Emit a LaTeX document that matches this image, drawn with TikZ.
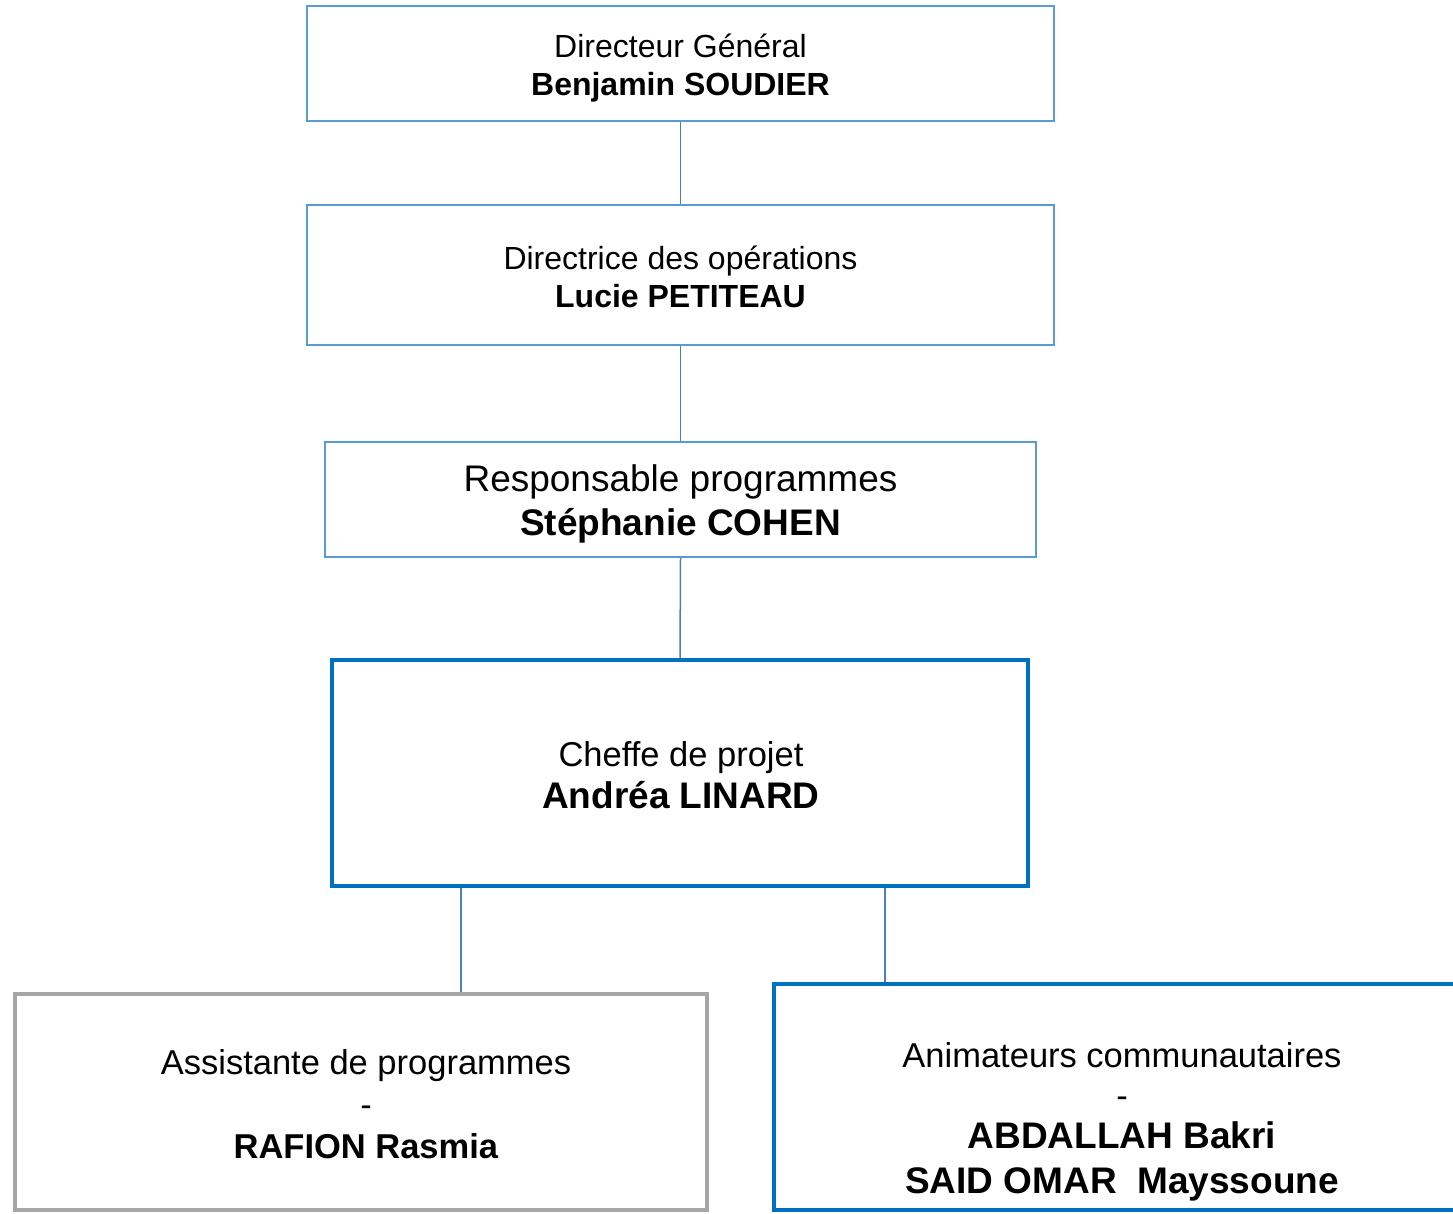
\documentclass[tikz,border=0pt]{standalone}
\usepackage{fontspec}
\setmainfont{Liberation Sans}
\definecolor{thinblue}{HTML}{5B9BD5}
\definecolor{thickblue}{HTML}{0070C0}
\definecolor{boxgray}{HTML}{A6A6A6}
\definecolor{linkblue}{HTML}{4A7EBB}
\tikzset{
  thinbox/.style={draw=thinblue, line width=2pt, fill=white, inner sep=0pt},
  thickbox/.style={draw=thickblue, line width=4.5pt, fill=white, inner sep=0pt},
  graybox/.style={draw=boxgray, line width=4pt, fill=white, inner sep=0pt},
  link/.style={draw=linkblue, line width=1.5pt},
  txt/.style={align=center, inner sep=0pt},
  fa/.style={font=\fontsize{32}{38}\selectfont},
  fb/.style={font=\fontsize{37}{44}\selectfont},
  fc/.style={font=\fontsize{34.5}{42}\selectfont}
}
\newcommand{\bigbold}[1]{{\fontsize{37}{42}\selectfont\bfseries #1}}
\begin{document}
\begin{tikzpicture}[x=1pt,y=-1pt]
\useasboundingbox (0,0) rectangle (1453,1213);
\fill[white] (0,0) rectangle (1453,1213);

\node[thinbox, minimum width=747pt, minimum height=115pt] (b1) at (680.5,63.5) {};
\node[thinbox, minimum width=747pt, minimum height=140pt] (b2) at (680.5,275) {};
\node[thinbox, minimum width=711pt, minimum height=115pt] (b3) at (680.5,499.5) {};
\node[thickbox, minimum width=696pt, minimum height=226pt] (b4) at (680,773) {};
\node[graybox, minimum width=692pt, minimum height=216pt] (b5) at (361,1101.5) {};
\node[thickbox, minimum width=696pt, minimum height=226pt] (b6) at (1122,1097) {};

\node[txt, fa] (t1) at (680.5,68) {Directeur Général\\\textbf{Benjamin SOUDIER}};
\node[txt, fa] (t2) at (680.5,277) {Directrice des opérations\\\textbf{Lucie PETITEAU}};
\node[txt, fb] (t3) at (680.5,504) {Responsable programmes\\\textbf{Stéphanie COHEN}};
\node[txt, fc] (t4) at (681,775) {Cheffe de projet\\\bigbold{Andréa LINARD}};
\node[txt, fc] (t5) at (366,1104) {Assistante de programmes\\-\\\textbf{RAFION Rasmia}};
\node[txt, font=\fontsize{34.5}{40}\selectfont] (t6) at (1122,1122)
  {Animateurs communautaires\\-\\[1pt]\bigbold{ABDALLAH Bakri}\\[5pt]\bigbold{SAID OMAR\ \ Mayssoune}};

\coordinate (c5) at (461,0);
\coordinate (c6) at (885,0);
\draw[link] (b1.south) -- (b2.north);
\draw[link] (b2.south) -- (b3.north);
\draw[link] (b3.south) -- (b4.north);
\draw[link] (b4.south -| c5) -- (b5.north -| c5);
\draw[link] (b4.south -| c6) -- (b6.north -| c6);
\end{tikzpicture}
\end{document}
